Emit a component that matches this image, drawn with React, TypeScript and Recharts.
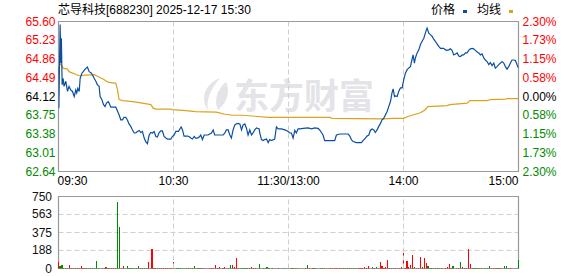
import React from "react";
import {
  LineChart,
  Line,
  BarChart,
  Bar,
  Cell,
  XAxis,
  YAxis,
  CartesianGrid,
  ReferenceArea,
  ReferenceLine,
} from "recharts";

// minutes since 09:30 (lunch break removed, 240 = 15:00)
const priceTimes = [
  0, 0.2, 0.5, 0.85, 1.2, 1.5, 1.9, 2.4, 2.9, 3.8,
  4.7, 5.5, 6.4, 7.3, 8.2, 9, 9.5, 10.1, 10.8, 11.3,
  12.2, 12.9, 13.9, 15.1, 16, 16.9, 17.7, 18.6, 19.5, 20.3,
  21.2, 21.7, 22.6, 23.5, 24.3, 25, 25.9, 26.4, 27.3, 29.9,
  30.8, 31.6, 32.5, 33.4, 34.2, 35.1, 36, 36.8, 37.7, 38.6,
  39.5, 40.3, 41.2, 42.1, 42.9, 43.8, 44.7, 45.5, 46.4, 47.3,
  48.2, 49, 49.9, 50.8, 51.6, 52.5, 53.4, 54.2, 55.1, 56,
  56.9, 58.6, 59.4, 60.3, 61.2, 62.6, 63.3, 64, 64.7, 65.5,
  67.3, 68.1, 69, 69.9, 70.8, 71.6, 72.5, 73.4, 74.2, 75.1,
  76, 76.8, 78, 79.8, 80.7, 81.5, 85.9, 86.8, 87.6, 88.5,
  89.4, 90.2, 91.1, 92, 92.8, 93.7, 94.6, 95.5, 96.3, 97.2,
  98.1, 98.9, 99.8, 100.7, 101.5, 102.4, 103.3, 104.7, 105, 105.9,
  106.8, 107.6, 108.5, 109.4, 110.2, 111.1, 112.8, 113.7, 114.6, 116.3,
  118.1, 118.9, 119.8, 120.7, 121.5, 122.4, 123.3, 124.1, 125, 125.9,
  127.6, 130.2, 132, 133.7, 135.4, 136.3, 137.2, 138, 138.9, 144.1,
  145, 146.8, 151.1, 152, 152.8, 153.7, 155.4, 158, 158.9, 160.1,
  161, 161.9, 162.7, 163.6, 164.5, 165.3, 166.2, 167.1, 168, 168.8,
  169.7, 170.6, 171.4, 172.3, 173.2, 174, 174.6, 175.3, 175.8, 176.7,
  177.5, 178.4, 179.3, 180.1, 181, 181.9, 182.7, 183.6, 184.5, 185,
  185.7, 186.2, 187.1, 188, 188.8, 189.7, 190.6, 191.4, 192.3, 193.2,
  194, 194.9, 195.8, 196.6, 197.5, 198.4, 199.3, 201, 201.9, 202.7,
  203.6, 204.5, 205.3, 206.2, 207.1, 208, 208.8, 209.7, 210.6, 211.4,
  212.3, 213.2, 214, 214.9, 215.8, 216.6, 217.5, 218.4, 219.3, 220.1,
  221, 221.9, 222.7, 223.6, 224.5, 225.3, 226.2, 227.1, 227.9, 228.8,
  229.7, 230.6, 231.4, 232.3, 233.2, 234, 234.9, 235.8, 236.6, 237.5,
  238.4, 239.2, 240,
];

const prices = [
  64.71, 63.89, 64.71, 65.54, 64.78, 65.27, 64.35, 64.48, 64.32, 64.42,
  64.22, 64.32, 64.25, 64.22, 64.12, 64.25, 64.19, 64.28, 64.22, 64.48,
  64.58, 64.61, 64.66, 64.7, 64.61, 64.59, 64.55, 64.48, 64.42, 64.35,
  64.32, 64.12, 64.06, 63.96, 63.92, 63.99, 64.02, 63.99, 63.91, 63.91,
  63.83, 63.76, 63.66, 63.66, 63.71, 63.71, 63.65, 63.58, 63.53, 63.46,
  63.4, 63.4, 63.43, 63.45, 63.41, 63.43, 63.3, 63.23, 63.19, 63.36,
  63.41, 63.4, 63.43, 63.33, 63.32, 63.41, 63.44, 63.44, 63.33, 63.3,
  63.28, 63.28, 63.33, 63.36, 63.43, 63.43, 63.48, 63.52, 63.46, 63.34,
  63.34, 63.33, 63.3, 63.28, 63.33, 63.3, 63.3, 63.32, 63.36, 63.27,
  63.36, 63.36, 63.36, 63.4, 63.46, 63.36, 63.36, 63.4, 63.46, 63.46,
  63.36, 63.3, 63.46, 63.56, 63.58, 63.59, 63.58, 63.46, 63.56, 63.58,
  63.49, 63.36, 63.46, 63.36, 63.4, 63.46, 63.5, 63.48, 63.4, 63.27,
  63.25, 63.27, 63.28, 63.21, 63.27, 63.25, 63.28, 63.52, 63.48, 63.48,
  63.46, 63.45, 63.43, 63.4, 63.4, 63.3, 63.45, 63.4, 63.48, 63.48,
  63.49, 63.5, 63.48, 63.5, 63.49, 63.46, 63.41, 63.36, 63.25, 63.25,
  63.36, 63.38, 63.38, 63.34, 63.27, 63.23, 63.21, 63.21, 63.25, 63.3,
  63.34, 63.36, 63.45, 63.48, 63.46, 63.41, 63.46, 63.53, 63.59, 63.66,
  63.69, 63.76, 63.82, 63.92, 64.02, 64.19, 64.27, 64.12, 64.13, 64.12,
  64.22, 64.29, 64.29, 64.45, 64.58, 64.65, 64.68, 64.71, 64.86, 64.94,
  64.78, 64.88, 64.98, 65.04, 65.14, 65.21, 65.27, 65.37, 65.47, 65.37,
  65.34, 65.31, 65.25, 65.21, 65.16, 65.11, 65.07, 65.07, 65.04, 65.03,
  65.04, 65.06, 65.03, 64.94, 64.96, 64.98, 64.92, 64.91, 64.94, 64.94,
  64.98, 64.98, 65.03, 65.06, 65.07, 65.06, 65.03, 65.0, 64.98, 64.94,
  64.96, 64.88, 64.84, 64.81, 64.75, 64.79, 64.73, 64.78, 64.68, 64.71,
  64.75, 64.78, 64.81, 64.78, 64.71, 64.66, 64.71, 64.78, 64.84, 64.84,
  64.83, 64.75, 64.68,
];

const avgTimes = [
  0, 0.3, 0.6, 2.1, 2.4, 4.7, 5.5, 8.2, 10.8, 13.9,
  18.6, 20.3, 23.5, 25, 26.4, 29.9, 30.8, 31.6, 33.4, 38.6,
  43.8, 48.2, 49.4, 50.8, 58.6, 59.4, 66.4, 71.6, 82.4, 86.8,
  91.1, 96.3, 102.4, 109.4, 141.9, 142.4, 169.7, 174, 180.1, 182.7,
  185.3, 188.8, 191.4, 192.6, 202.7, 204.1, 213.2, 214.6, 223.6, 225.3,
  233.2, 234, 240,
];

const avgPrices = [
  64.32, 64.71, 64.78, 64.71, 64.68, 64.66, 64.61, 64.57, 64.53, 64.54,
  64.55, 64.52, 64.46, 64.42, 64.4, 64.38, 64.25, 64.06, 64.04, 64.02,
  63.99, 63.96, 63.89, 63.87, 63.87, 63.86, 63.84, 63.82, 63.81, 63.77,
  63.75, 63.75, 63.73, 63.71, 63.71, 63.69, 63.68, 63.69, 63.69, 63.73,
  63.76, 63.8, 63.86, 63.92, 63.94, 63.96, 63.99, 64.04, 64.04, 64.06,
  64.07, 64.08, 64.08,
];

// one bar per minute, 0..240
const volumes = [
  66, 24, 35, 8, 8, 8, 35, 8, 8, 8, 8, 8, 24, 8, 8, 8, 8, 8, 8, 8,
  76, 8, 0, 8, 8, 14, 8, 8, 8, 8, 8, 694, 430, 8, 24, 0, 24, 8, 8, 8,
  8, 8, 24, 8, 8, 8, 8, 66, 0, 201, 8, 8, 8, 8, 8, 8, 8, 8, 8, 8,
  66, 0, 8, 8, 8, 8, 0, 8, 8, 8, 8, 24, 0, 8, 8, 8, 8, 0, 0, 8,
  8, 8, 35, 8, 14, 0, 8, 14, 0, 8, 35, 35, 14, 108, 8, 8, 8, 8, 8, 8,
  8, 14, 8, 8, 0, 45, 0, 8, 8, 14, 8, 0, 8, 0, 0, 8, 0, 0, 8, 0,
  8, 0, 8, 8, 8, 8, 0, 0, 0, 8, 35, 8, 0, 8, 8, 0, 0, 8, 8, 8,
  0, 0, 8, 8, 0, 8, 0, 8, 8, 8, 8, 8, 8, 8, 8, 8, 0, 8, 8, 8,
  14, 8, 24, 0, 14, 8, 14, 8, 66, 24, 8, 14, 87, 8, 8, 8, 8, 0, 8, 14,
  160, 8, 76, 14, 35, 139, 14, 8, 8, 118, 14, 108, 56, 24, 8, 8, 8, 8, 8, 8,
  8, 0, 8, 14, 45, 8, 24, 0, 8, 8, 66, 14, 8, 8, 201, 45, 8, 8, 8, 8,
  8, 8, 0, 8, 8, 24, 8, 8, 8, 8, 8, 8, 0, 24, 24, 8, 8, 0, 0, 0,
  87,
];

// r = up minute, g = down minute
const volColors = (
  "rggrggrggrrgrrgggggg" +
  "gggggrggrrrgggrggggg" +
  "grgrgggrrrgrrgrrrrrr" +
  "rrggggggrggggrggrrrr" +
  "rrrrrrrrrggrrrrggggg" +
  "grrrrggrggggrrrrrrgg" +
  "rrgggrrrrrgrrrgggggr" +
  "rrrrrrrrrgggrggggrrr" +
  "rrrrgrgrrrrrrrggrrrr" +
  "rrrrrrgrrrrrrggggrrg" +
  "ggrrrrggrrgrrrrrgggg" +
  "ggggggrrrgrrrggrrrrr" +
  "g"
).split("");

const prevClose = 64.12;
const priceTicks = [62.64, 63.01, 63.38, 63.75, 64.12, 64.49, 64.86, 65.23, 65.6];
const pctLabels = ["2.30%", "1.73%", "1.15%", "0.58%", "0.00%", "0.58%", "1.15%", "1.73%", "2.30%"];
const timeTicks = [0, 60, 120, 180, 240];
const timeLabels = ["09:30", "10:30", "11:30/13:00", "14:00", "15:00"];
const volTicks = [0, 188, 375, 563, 750];

const priceData = priceTimes.map((t, i) => ({ t, price: prices[i] }));
const avgData = avgTimes.map((t, i) => ({ t, avg: avgPrices[i] }));
const volData = volumes.map((v, i) => ({ t: i, v, c: volColors[i] }));

const FONT = "'Liberation Sans', Arial, 'Noto Sans CJK SC', sans-serif";
const RED = "#ff0000";
const GREEN = "#008a00";
const BORDER = "#999999";
const GRID = "#cfcfcf";

const tone = (v: number) =>
  v > prevClose + 0.001 ? RED : v < prevClose - 0.001 ? GREEN : "#000";

const LeftTick = (props: any) => {
  const { x, y, payload } = props;
  return (
    <text x={x} y={y} dy={4} textAnchor="end" fontSize={12} fontFamily={FONT} fill={tone(payload.value)}>
      {payload.value.toFixed(2)}
    </text>
  );
};

const RightTick = (props: any) => {
  const { x, y, payload } = props;
  const i = priceTicks.indexOf(payload.value);
  return (
    <text x={x} y={y} dy={4} textAnchor="start" fontSize={12} fontFamily={FONT} fill={tone(payload.value)}>
      {pctLabels[i]}
    </text>
  );
};

const TimeTick = (props: any) => {
  const { x, y, payload } = props;
  const i = timeTicks.indexOf(payload.value);
  const anchor = i === 0 ? "start" : i === timeTicks.length - 1 ? "end" : "middle";
  return (
    <text x={x} y={y} dy={11} dx={i === 0 ? -1 : 0} textAnchor={anchor} fontSize={12} fontFamily={FONT} fill="#000">
      {timeLabels[i]}
    </text>
  );
};

const VolTick = (props: any) => {
  const { x, y, payload } = props;
  return (
    <text x={x} y={y} dy={4} textAnchor="end" fontSize={12} fontFamily={FONT} fill="#111">
      {payload.value}
    </text>
  );
};

// crisp 1px volume bar, positioned by the Bar's own scale
const VolBar = (props: any) => {
  const { x, y, width, height, fill } = props;
  if (!height || height <= 0) return null;
  return <rect x={x + width / 2 - 0.5} y={y} width={1.2} height={height} fill={fill} shapeRendering="crispEdges" />;
};

export default function App() {
  return (
    <div style={{ position: "absolute", left: 0, top: 0, width: 578, height: 276, background: "#fff", fontFamily: FONT }}>
      {/* watermark */}
      <div style={{ position: "absolute", left: 198, top: 76, display: "flex", alignItems: "center", color: "#e3e3e8" }}>
        <svg width={32} height={36}>
          <path d="M22 2 C6 8 2 24 10 34 C8 24 12 14 22 2 Z" fill="#e3e3e8" />
          <path d="M28 6 C18 14 16 26 20 34 C30 26 32 14 28 6 Z" fill="#e3e3e8" />
        </svg>
        <span style={{ fontFamily: "'Noto Sans CJK SC'", fontWeight: 700, fontSize: 35, lineHeight: "36px", marginLeft: 4 }}>
          东方财富
        </span>
      </div>

      {/* title */}
      <div style={{ position: "absolute", left: 58, top: 2, fontSize: 12, lineHeight: "14px", color: "#000", whiteSpace: "nowrap" }}>
        <span style={{ fontFamily: "'Noto Sans CJK SC'" }}>芯导科技</span>
        <span>[688230] 2025-12-17 15:30</span>
      </div>

      {/* legend */}
      <div style={{ position: "absolute", left: 431, top: 2, fontSize: 12, lineHeight: "14px", color: "#000", whiteSpace: "nowrap", display: "flex", alignItems: "center" }}>
        <span style={{ fontFamily: "'Noto Sans CJK SC'" }}>价格</span>
        <span style={{ display: "inline-block", width: 4, height: 3, background: "#0b4fa3", marginLeft: 8, marginTop: 4 }} />
        <span style={{ fontFamily: "'Noto Sans CJK SC'", marginLeft: 10 }}>均线</span>
        <span style={{ display: "inline-block", width: 4, height: 3, background: "#dba21f", marginLeft: 8, marginTop: 4 }} />
      </div>

      <div style={{ position: "absolute", left: 0, top: 0 }}>
        <LineChart width={578} height={190} margin={{ top: 21.5, right: 0, bottom: 0, left: 0 }}>
          <CartesianGrid stroke={GRID} strokeDasharray="5 3" />
          <XAxis
            type="number"
            dataKey="t"
            domain={[0, 240]}
            ticks={timeTicks}
            interval={0}
            height={18.5}
            axisLine={false}
            tickLine={false}
            tickSize={0}
            tickMargin={2}
            tick={<TimeTick />}
            allowDataOverflow
          />
          <YAxis
            yAxisId="left"
            domain={[62.64, 65.6]}
            ticks={priceTicks}
            interval={0}
            width={58.5}
            axisLine={false}
            tickLine={false}
            tickSize={0}
            tickMargin={3}
            tick={<LeftTick />}
            allowDataOverflow
          />
          <YAxis
            yAxisId="right"
            orientation="right"
            domain={[62.64, 65.6]}
            ticks={priceTicks}
            interval={0}
            width={59.5}
            axisLine={false}
            tickLine={false}
            tickSize={0}
            tickMargin={4}
            tick={<RightTick />}
            allowDataOverflow
          />
          <Line
            yAxisId="left"
            data={avgData}
            dataKey="avg"
            type="linear"
            stroke="#dba21f"
            strokeWidth={1.2}
            dot={false}
            isAnimationActive={false}
          />
          <Line
            yAxisId="left"
            data={priceData}
            dataKey="price"
            type="linear"
            stroke="#0b4fa3"
            strokeWidth={1.2}
            dot={false}
            isAnimationActive={false}
          />
          <ReferenceArea
            yAxisId="left"
            x1={0}
            x2={240}
            y1={62.64}
            y2={65.6}
            fill="none"
            fillOpacity={0}
            stroke={BORDER}
            strokeWidth={1.2}
            ifOverflow="visible"
          />
        </LineChart>
      </div>

      <div style={{ position: "absolute", left: 0, top: 190 }}>
        <BarChart width={578} height={86} data={volData} margin={{ top: 6.5, right: 59.5, bottom: 7.5, left: 0 }}>
          <CartesianGrid stroke={GRID} strokeDasharray="5 3" vertical={false} />
          <XAxis type="number" dataKey="t" domain={[0, 240]} hide />
          <YAxis
            domain={[0, 750]}
            ticks={volTicks}
            interval={0}
            width={58.5}
            axisLine={false}
            tickLine={false}
            tickSize={0}
            tickMargin={6.5}
            tick={<VolTick />}
            allowDataOverflow
          />
          {[60, 120, 180].map((m) => (
            <ReferenceLine key={m} x={m} stroke={GRID} strokeDasharray="5 3" />
          ))}
          <Bar dataKey="v" barSize={1} shape={<VolBar />} isAnimationActive={false}>
            {volData.map((d) => (
              <Cell key={d.t} fill={d.c === "r" ? RED : GREEN} />
            ))}
          </Bar>
          <ReferenceArea
            x1={0}
            x2={240}
            y1={0}
            y2={750}
            fill="none"
            fillOpacity={0}
            stroke={BORDER}
            strokeWidth={1.2}
            ifOverflow="visible"
          />
        </BarChart>
      </div>
    </div>
  );
}
